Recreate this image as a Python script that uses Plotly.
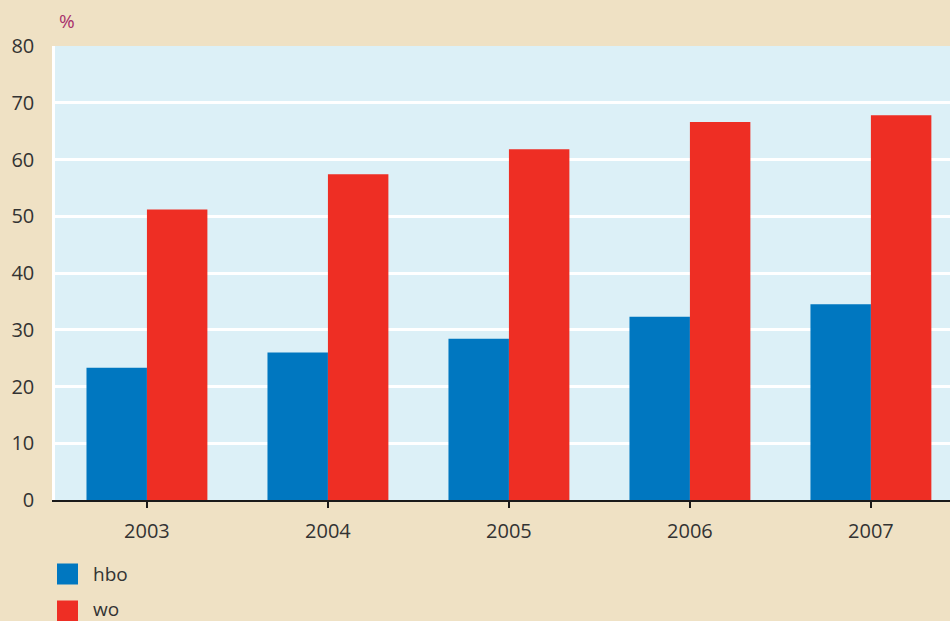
import plotly.graph_objects as go

years = ["2003", "2004", "2005", "2006", "2007"]
hbo = [23.3, 26.0, 28.4, 32.3, 34.5]
wo = [51.2, 57.4, 61.8, 66.6, 67.8]
series_names = ["hbo", "wo"]
colors = ["#0077c0", "#ee2e24"]
y_ticks = [0, 10, 20, 30, 40, 50, 60, 70, 80]

W, H = 950, 621
ML, MR, MT, MB = 55, 0, 46, 121
FONT = "Open Sans"
TXT = "#333333"

fig = go.Figure()
for name, vals, col in zip(series_names, [hbo, wo], colors):
    fig.add_trace(go.Bar(x=years, y=vals, name=name, marker=dict(color=col, line=dict(width=0)),
                         showlegend=False))

# legend drawn as squares + labels
for i, (name, col) in enumerate(zip(series_names, colors)):
    yc = 574 + 37 * i
    fig.add_shape(type="rect", xref="paper", yref="paper",
                  x0=(57 - ML) / (W - ML - MR), x1=(78 - ML) / (W - ML - MR),
                  y0=(H - MB - (yc + 10.5)) / (H - MT - MB), y1=(H - MB - (yc - 10.5)) / (H - MT - MB),
                  fillcolor=col, line=dict(width=0), layer="above")
    fig.add_annotation(text=name, xref="paper", yref="paper",
                       x=(91 - ML) / (W - ML - MR), y=(H - MB - (yc - 2 * i)) / (H - MT - MB),
                       xanchor="left", yanchor="middle", showarrow=False,
                       font=dict(family=FONT, size=19, color=TXT))

fig.add_annotation(text="%", xref="paper", yref="paper",
                   x=(57 - ML) / (W - ML - MR), y=(H - MB - 21) / (H - MT - MB),
                   xanchor="left", yanchor="middle", showarrow=False,
                   font=dict(family=FONT, size=19, color="#a8306b"))

fig.update_layout(
    width=W, height=H,
    margin=dict(l=ML, r=MR, t=MT, b=MB, pad=0),
    paper_bgcolor="#efe1c4",
    plot_bgcolor="#dcf0f7",
    barmode="group", bargap=0.332, bargroupgap=0,
    font=dict(family=FONT, size=20, color=TXT),
    xaxis=dict(type="category", range=[-0.508, 4.437], showgrid=False,
               showline=True, linecolor="#1a1a1a", linewidth=2,
               ticks="outside", ticklen=6, tickwidth=1.5, tickcolor="#1a1a1a",
               ticklabelstandoff=6,
               tickfont=dict(family=FONT, size=20, color=TXT)),
    yaxis=dict(range=[0, 80], tickvals=y_ticks, showgrid=True, gridcolor="#ffffff", gridwidth=2.5,
               showline=True, linecolor="#ffffff", linewidth=2.5, zeroline=False,
               ticks="", ticklabelstandoff=14,
               tickfont=dict(family=FONT, size=20, color=TXT)),
)

fig.write_html("out.html", config={"displayModeBar": False},
               post_script="document.body.style.margin='0';document.body.style.overflow='hidden';")
